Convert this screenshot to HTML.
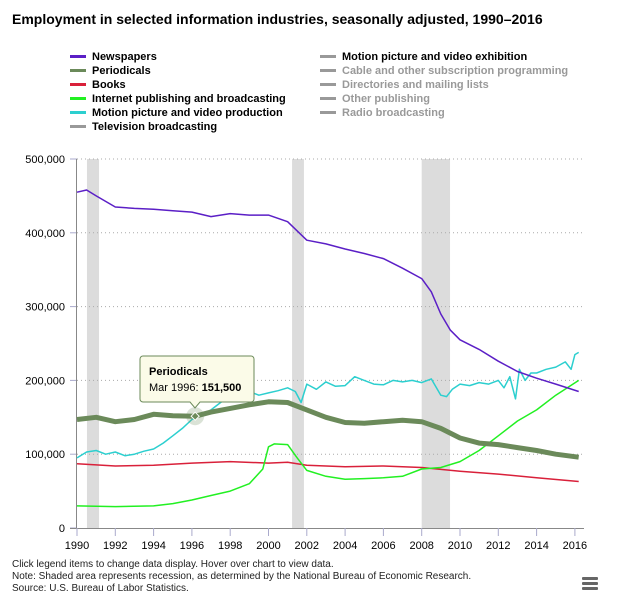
<!DOCTYPE html>
<html><head><meta charset="utf-8"><style>
body{margin:0;background:#fff;font-family:"Liberation Sans",sans-serif;}
#wrap{position:relative;width:634px;height:610px;overflow:hidden;background:#fff}
.title{position:absolute;left:12px;top:11px;font-size:14px;font-weight:bold;color:#000}
.leg{position:absolute;font-size:11px;font-weight:bold;color:#000;white-space:nowrap;cursor:pointer}
.leg span.sw{display:inline-block;width:16px;height:3px;vertical-align:middle;margin-right:6px;position:relative;top:-1px}
.note{position:absolute;left:12px;font-size:10px;color:#222}
</style></head><body>
<div id="wrap">
<div class="title">Employment in selected information industries, seasonally adjusted, 1990–2016</div>
<div class="leg" style="left:70px;top:51px"><span class="sw" style="background:#5b1fc6"></span>Newspapers</div>
<div class="leg" style="left:70px;top:65px"><span class="sw" style="background:#6b8a5a"></span>Periodicals</div>
<div class="leg" style="left:70px;top:79px"><span class="sw" style="background:#d9203a"></span>Books</div>
<div class="leg" style="left:70px;top:93px"><span class="sw" style="background:#22f022"></span>Internet publishing and broadcasting</div>
<div class="leg" style="left:70px;top:107px"><span class="sw" style="background:#2ccfcf"></span>Motion picture and video production</div>
<div class="leg" style="left:70px;top:121px"><span class="sw" style="background:#999"></span>Television broadcasting</div>
<div class="leg" style="left:320px;top:51px"><span class="sw" style="background:#999"></span>Motion picture and video exhibition</div>
<div class="leg" style="left:320px;top:65px;color:#999"><span class="sw" style="background:#999"></span>Cable and other subscription programming</div>
<div class="leg" style="left:320px;top:79px;color:#999"><span class="sw" style="background:#999"></span>Directories and mailing lists</div>
<div class="leg" style="left:320px;top:93px;color:#999"><span class="sw" style="background:#999"></span>Other publishing</div>
<div class="leg" style="left:320px;top:107px;color:#999"><span class="sw" style="background:#999"></span>Radio broadcasting</div>
<svg id="chart" width="634" height="610" style="position:absolute;left:0;top:0"></svg>
<div class="note" style="top:559px">Click legend items to change data display. Hover over chart to view data.</div>
<div class="note" style="top:571px">Note: Shaded area represents recession, as determined by the National Bureau of Economic Research.</div>
<div class="note" style="top:583px">Source: U.S. Bureau of Labor Statistics.</div>
<div style="position:absolute;left:582px;top:577px;width:16px">
<div style="height:3px;background:#666;margin-bottom:2px;border-radius:1px"></div><div style="height:3px;background:#666;margin-bottom:2px;border-radius:1px"></div><div style="height:3px;background:#666;border-radius:1px"></div></div>
</div>
<script>
const yTicks=[0,100000,200000,300000,400000,500000];
const xTicks=[1990,1992,1994,1996,1998,2000,2002,2004,2006,2008,2010,2012,2014,2016];
const recessions=[[1990.52,1991.15],[2001.23,2001.85],[2008.0,2009.48]];
const newsT=[1990,1990.5,1991,1992,1993,1994,1995,1996,1997,1998,1999,2000,2001,2002,2003,2004,2005,2006,2007,2008,2008.5,2009,2009.5,2010,2011,2012,2013,2014,2015,2016.2];
const newsV=[455,458,450,435,433,432,430,428,422,426,424,424,415,390,385,378,372,365,352,338,320,290,268,255,242,226,212,203,195,185];
const perT=[1990,1991,1992,1993,1994,1995,1996.17,1997,1998,1999,2000,2001,2002,2003,2004,2005,2006,2007,2008,2009,2010,2011,2012,2013,2014,2015,2016.2];
const perV=[147,150,144,147,154,152,151.5,157,162,167,171,170,160,150,143,142,144,146,144,135,122,115,113,109,105,100,96];
const bookT=[1990,1992,1994,1996,1998,2000,2001,2002,2004,2006,2008,2010,2012,2014,2016.2];
const bookV=[87,84,85,88,90,88,89,85,83,84,82,77,73,68,63];
const netT=[1990,1992,1994,1995,1996,1997,1998,1999,1999.7,2000,2000.3,2001,2001.5,2002,2003,2004,2005,2006,2007,2008,2009,2010,2011,2012,2013,2014,2015,2016.2];
const netV=[30,29,30,33,38,44,50,60,80,110,114,113,95,78,70,66,67,68,70,80,82,90,105,125,145,160,180,200];
const mpT=[1990,1990.5,1991,1991.5,1992,1992.5,1993,1993.5,1994,1994.5,1995,1995.5,1996,1996.5,1997,1997.5,1998,1998.5,1999,1999.5,2000,2000.5,2001,2001.4,2001.7,2002,2002.5,2003,2003.5,2004,2004.5,2005,2005.5,2006,2006.5,2007,2007.5,2008,2008.5,2009,2009.3,2009.6,2010,2010.5,2011,2011.5,2012,2012.3,2012.6,2012.9,2013.1,2013.4,2013.7,2014,2014.5,2015,2015.5,2015.8,2016,2016.2];
const mpV=[95,103,105,100,103,98,100,104,107,115,125,135,147,152,160,170,178,181,185,180,183,186,190,185,170,195,188,198,192,193,205,200,195,194,200,198,200,197,202,180,178,188,195,193,197,195,200,190,205,175,215,200,210,210,215,218,225,215,235,238];
const X=y=>77+(y-1990)*19.15;
const Y=v=>528-v*0.000738*1000*0.001*1000;
const Yk=v=>528-v*0.738;
const svg=document.getElementById('chart');
const NS='http://www.w3.org/2000/svg';
function mk(t,a){const e=document.createElementNS(NS,t);for(const k in a)e.setAttribute(k,a[k]);svg.appendChild(e);return e;}
recessions.forEach(r=>{const e=mk('rect',{x:X(r[0]),y:159,width:X(r[1])-X(r[0]),height:369,fill:'#dcdcdc'});

});
yTicks.forEach(v=>{const y=Yk(v/1000);
if(v>0){const g=mk('line',{x1:77,x2:582,y1:y,y2:y,stroke:'#aaa','stroke-dasharray':'1,3'});

}
const tk=mk('line',{x1:70,x2:77,y1:y,y2:y,stroke:'#aac'});


const t=mk('text',{x:65,y:y+4,'text-anchor':'end','font-size':11,fill:'#000','font-family':'Liberation Sans,sans-serif'});
t.textContent=v.toLocaleString('en-US');

});
const ax=mk('line',{x1:76.5,x2:76.5,y1:159,y2:528,stroke:'#888'});


const xa=mk('line',{x1:70,x2:584,y1:528.5,y2:528.5,stroke:'#888'});


xTicks.forEach(yr=>{const x=X(yr);
const tk=mk('line',{x1:x,x2:x,y1:528,y2:536,stroke:'#aac'});


const t=mk('text',{x:x,y:549,'text-anchor':'middle','font-size':11,fill:'#000','font-family':'Liberation Sans,sans-serif'});
t.textContent=yr;

});
function series(T,V,color,w,name){const d=T.map((t,i)=>(i?'L':'M')+X(t).toFixed(1)+','+Yk(V[i]).toFixed(1)).join('');
const p=mk('path',{d:d,fill:'none',stroke:color,'stroke-width':w,'stroke-linejoin':'round'});

}
series(bookT,bookV,'#d9203a',1.5,'books-line');
series(netT,netV,'#22f022',1.5,'internet-publishing-line');
series(mpT,mpV,'#2ccfcf',1.5,'motion-picture-production-line');
series(newsT,newsV,'#5b1fc6',1.5,'newspapers-line');
series(perT,perV,'#6b8a5a',5,'periodicals-line');
const hx=X(1996.17),hy=Yk(151.5);
const halo=mk('circle',{cx:hx,cy:hy,r:9,fill:'#6b8a5a','fill-opacity':0.25});


const mkr=mk('path',{d:`M${hx},${hy-4}L${hx+4},${hy}L${hx},${hy+4}L${hx-4},${hy}Z`,fill:'#6b8a5a',stroke:'#fff','stroke-width':1});


const tip=mk('path',{d:`M143,356H251a3,3 0 0 1 3,3V399a3,3 0 0 1 -3,3H200L195,408L190,402H143a3,3 0 0 1 -3,-3V359a3,3 0 0 1 3,-3Z`,fill:'#fbfbe8',stroke:'#6b8a5a','stroke-width':1});


const t1=mk('text',{x:149,y:375,'font-size':11,'font-weight':'bold','font-family':'Liberation Sans,sans-serif'});t1.textContent='Periodicals';


const t2=mk('text',{x:149,y:391,'font-size':11,'font-family':'Liberation Sans,sans-serif'});
t2.innerHTML='Mar 1996: <tspan font-weight="bold">151,500</tspan>';


</script>
</body></html>
